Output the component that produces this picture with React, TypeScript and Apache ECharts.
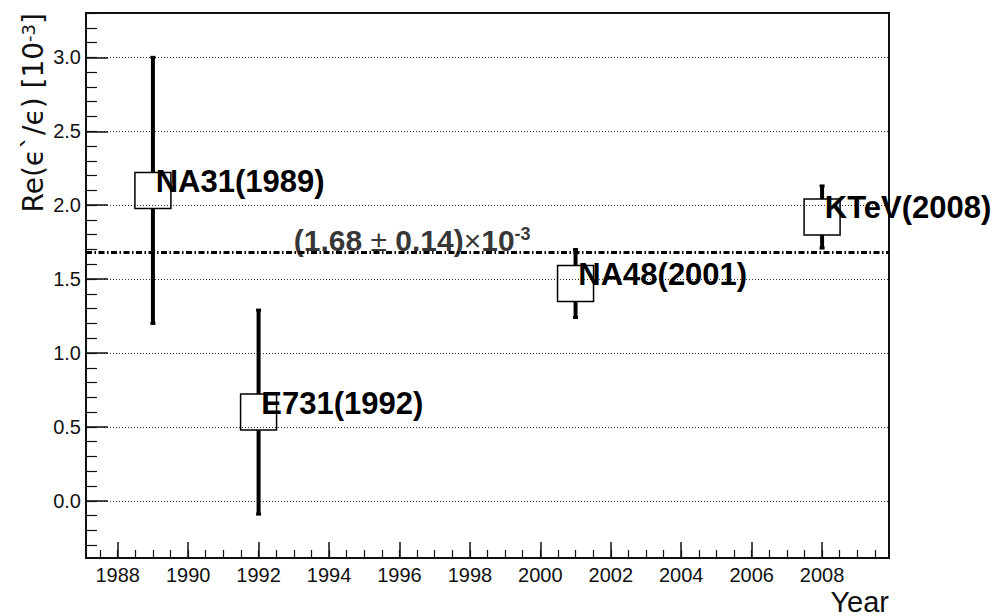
import React, { useEffect, useRef } from "react";
import * as echarts from "echarts";

// ---- data ----
const experiments = ["NA31(1989)", "E731(1992)", "NA48(2001)", "KTeV(2008)"];
const years = [1989, 1992, 2001, 2008];
const values = [2.1, 0.6, 1.47, 1.92];
const errors = [0.9, 0.69, 0.23, 0.21];
const average = 1.68;
const averageError = 0.14;
const averageLabelYear = 1993;

const xMajorTicks = [1988, 1990, 1992, 1994, 1996, 1998, 2000, 2002, 2004, 2006, 2008];
const yMajorTicks = [0, 0.5, 1.0, 1.5, 2.0, 2.5, 3.0];
const xRange = [1987.1, 2009.9];
const yRange = [-0.387, 3.3];

const xMinorTicks: number[] = [];
for (let v = 1987.5; v <= 2009.5; v += 0.5) xMinorTicks.push(v);
const yMinorTicks: number[] = [];
for (let i = -3; i <= 33; i++) yMinorTicks.push(Math.round(i) / 10);

const FONT = "'Liberation Sans', Arial, Helvetica, sans-serif";
const WIDE = "'DejaVu Sans', 'Liberation Sans', sans-serif";
const BOX = 36;

export default function App() {
  const ref = useRef<HTMLDivElement>(null);
  useEffect(() => {
    if (!ref.current) return;
    const chart = echarts.init(ref.current, null, { renderer: "svg" });
    const grid = { left: 86, right: 105, top: 13, bottom: 57 };
    const option: any = {
      animation: false,
      backgroundColor: "#fff",
      grid: { ...grid, show: true, borderColor: "#111", borderWidth: 2, backgroundColor: "transparent" },
      xAxis: [
        {
          type: "value",
          min: xRange[0],
          max: xRange[1],
          position: "bottom",
          axisLine: { show: true, onZero: false, lineStyle: { color: "#111", width: 2 } },
          axisTick: { show: true, inside: true, length: 16, customValues: xMajorTicks, lineStyle: { color: "#111", width: 1.5 } },
          axisLabel: {
            show: true,
            customValues: xMajorTicks,
            margin: 7,
            fontSize: 20,
            fontFamily: FONT,
            color: "#111",
            formatter: (v: number) => String(Math.round(v)),
          },
          splitLine: { show: false },
          name: "Year",
          nameLocation: "end",
          nameGap: 0,
          nameTextStyle: { fontSize: 29, fontFamily: FONT, color: "#111", align: "right", verticalAlign: "top", padding: [29, 0, 0, 0] },
        },
        {
          type: "value",
          min: xRange[0],
          max: xRange[1],
          position: "bottom",
          axisLine: { show: false, onZero: false },
          axisTick: { show: true, inside: true, length: 8, customValues: xMinorTicks, lineStyle: { color: "#111", width: 1.2 } },
          axisLabel: { show: false },
          splitLine: { show: false },
        },
      ],
      yAxis: [
        {
          type: "value",
          min: yRange[0],
          max: yRange[1],
          position: "left",
          axisLine: { show: true, onZero: false, lineStyle: { color: "#111", width: 2 } },
          axisTick: { show: true, inside: true, length: 22, customValues: yMajorTicks, lineStyle: { color: "#111", width: 1.5 } },
          axisLabel: {
            show: true,
            customValues: yMajorTicks,
            margin: 5,
            fontSize: 20,
            fontFamily: FONT,
            color: "#111",
            formatter: (v: number) => v.toFixed(1),
          },
          splitLine: { show: true, lineStyle: { color: "#333", width: 1, type: [1, 2] } },
        },
        {
          type: "value",
          min: yRange[0],
          max: yRange[1],
          position: "left",
          axisLine: { show: false, onZero: false },
          axisTick: { show: true, inside: true, length: 11, customValues: yMinorTicks, lineStyle: { color: "#111", width: 1.2 } },
          axisLabel: { show: false },
          splitLine: { show: false },
        },
      ],
      graphic: [
        {
          type: "text",
          x: 33,
          y: 13,
          rotation: Math.PI / 2,
          style: {
            text: "Re(ϵ`/ϵ) [10{sup|-3}]",
            fontSize: 28,
            fontFamily: WIDE,
            fill: "#111",
            align: "right",
            verticalAlign: "middle",
            rich: {
              sup: { fontSize: 18, fontFamily: WIDE, fill: "#111", verticalAlign: "top" },
            },
          },
        },
      ],
      series: [
        {
          type: "custom",
          name: "errors",
          xAxisIndex: 0,
          yAxisIndex: 0,
          data: years.map((y, i) => [y, values[i], errors[i]]),
          encode: { x: 0, y: 1 },
          renderItem: (params: any, api: any) => {
            const x = api.value(0);
            const y = api.value(1);
            const e = api.value(2);
            const c = api.coord([x, y]);
            const hi = api.coord([x, y + e]);
            const lo = api.coord([x, y - e]);
            const half = BOX / 2;
            const st = { stroke: "#000", lineWidth: 4 };
            const cap = { stroke: "#000", lineWidth: 3 };
            return {
              type: "group",
              children: [
                { type: "line", shape: { x1: c[0], y1: hi[1], x2: c[0], y2: c[1] - half }, style: st },
                { type: "line", shape: { x1: c[0], y1: c[1] + half, x2: c[0], y2: lo[1] }, style: st },
                { type: "line", shape: { x1: c[0] - 2.5, y1: hi[1], x2: c[0] + 2.5, y2: hi[1] }, style: cap },
                { type: "line", shape: { x1: c[0] - 2.5, y1: lo[1], x2: c[0] + 2.5, y2: lo[1] }, style: cap },
              ],
            };
          },
          z: 3,
        },
        {
          type: "scatter",
          name: "measurements",
          xAxisIndex: 0,
          yAxisIndex: 0,
          data: years.map((y, i) => ({ value: [y, values[i]], name: experiments[i] })),
          symbol: "rect",
          symbolSize: BOX,
          itemStyle: { color: "rgba(255,255,255,0)", borderColor: "#000", borderWidth: 1.5, opacity: 1 },
          label: {
            show: true,
            position: "right",
            distance: -16,
            offset: [0, -9],
            formatter: (p: any) => p.name,
            fontSize: 31,
            fontWeight: "bold",
            fontFamily: FONT,
            color: "#000",
          },
          markLine: {
            silent: true,
            symbol: ["none", "none"],
            label: { show: false },
            lineStyle: { color: "#000", width: 3, type: [6, 2.5, 1.5, 2.5] },
            data: [{ yAxis: average }],
          },
          z: 4,
        },
        {
          type: "scatter",
          name: "average",
          xAxisIndex: 0,
          yAxisIndex: 0,
          data: [[averageLabelYear, average]],
          symbolSize: 0,
          label: {
            show: true,
            position: "right",
            distance: 0,
            offset: [0, -12],
            formatter: `{a|(${average.toFixed(2)} }{pm|±}{a| ${averageError.toFixed(2)})}{pm|×}{a|10}{sup|-3}`,
            rich: {
              a: { fontSize: 30, fontWeight: "bold", fontFamily: FONT, color: "#000", lineHeight: 30 },
              pm: { fontSize: 30, fontWeight: "normal", fontFamily: FONT, color: "#000", lineHeight: 30 },
              sup: { fontSize: 18, fontWeight: "bold", fontFamily: FONT, color: "#000", verticalAlign: "top", lineHeight: 30 },
            },
          },
          z: 5,
        },
      ],
    };
    chart.setOption(option);
    return () => chart.dispose();
  }, []);
  return <div ref={ref} style={{ position: "fixed", left: 0, top: 0, width: 994, height: 616 }} />;
}
